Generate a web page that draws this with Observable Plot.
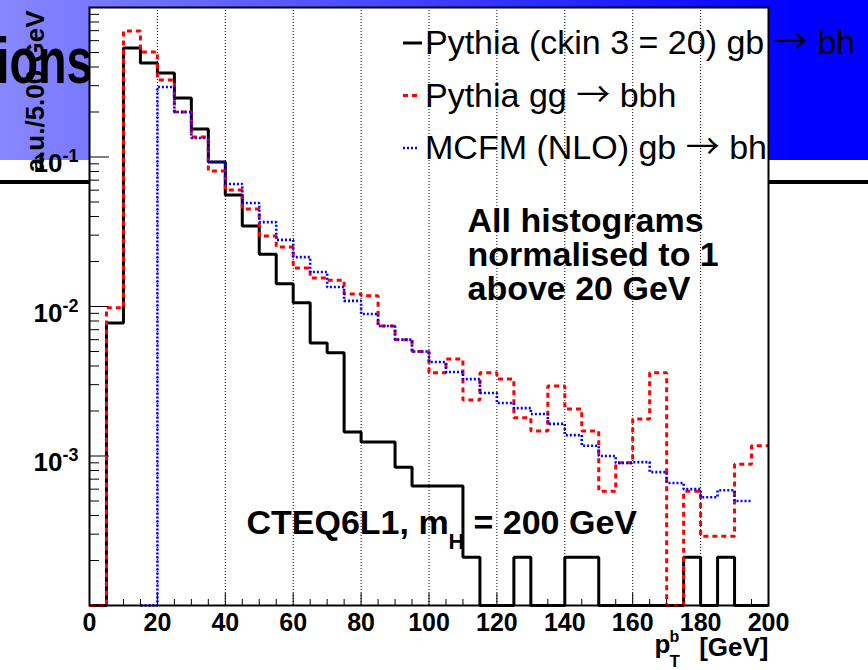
<!DOCTYPE html>
<html>
<head>
<meta charset="utf-8">
<script src="https://cdn.jsdelivr.net/npm/d3@7"></script>
<script src="https://cdn.jsdelivr.net/npm/@observablehq/plot@0.6"></script>
<style>
  html, body { margin: 0; padding: 0; background: #fff; }
  #stage { position: relative; width: 868px; height: 670px; overflow: hidden; background: #fff; }
  #banner { position: absolute; left: 0; top: 0; width: 868px; height: 160px;
            background: linear-gradient(to right, #8888ff 0%, #0000ff 92%); }
  #bar { position: absolute; left: 0; top: 180px; width: 868px; height: 4px; background: #000; }
  #slide-title { position: absolute; right: 775px; top: 29px; font: bold 64px "Liberation Sans", Arial, sans-serif;
                 line-height: 64px; white-space: nowrap; transform: scaleX(0.73); transform-origin: right center; color: #000; }
  #chart { position: absolute; left: 0; top: 0; }
</style>
</head>
<body>
<div id="stage">
  <div id="banner"></div>
  <div id="bar"></div>
  <div id="slide-title">ions</div>
  <div id="chart"></div>
</div>
<script>
// ---------------- data ----------------
// lower edges of the 5 GeV bins in pT^b
const binEdges = [0,5,10,15,20,25,30,35,40,45,50,55,60,65,70,75,80,85,90,95,
                  100,105,110,115,120,125,130,135,140,145,150,155,160,165,170,175,180,185,190,195];
const binWidth = 5;

// Pythia (ckin 3 = 20) gb -> bh  (black, solid)
const pythiaCkin = [0, 0.00776, 0.536, 0.426, 0.365, 0.248, 0.154, 0.0926, 0.0557, 0.0345,
                    0.0224, 0.0142, 0.0106, 0.0057, 0.0049, 0.00145, 0.00124, 0.00124, 0.00084, 0.00063,
                    0.00063, 0.00063, 0.00021, 0, 0, 0.00021, 0, 0, 0.00021, 0.00021,
                    0, 0, 0, 0, 0, 0.00021, 0, 0.00021, 0, 0];

// Pythia gg -> bbh  (red, dashed)
const pythiaGG = [0, 0.0098, 0.697, 0.504, 0.327, 0.200, 0.136, 0.0806, 0.0601, 0.0449,
                  0.0296, 0.0250, 0.0181, 0.0155, 0.0150, 0.0121, 0.0118, 0.0074, 0.0060, 0.0050,
                  0.0036, 0.00445, 0.00237, 0.0036, 0.00327, 0.0018, 0.00147, 0.00294, 0.00206, 0.00147,
                  0.00058, 0.0009, 0.00177, 0.0036, 0, 0.00058, 0.00029, 0.00029, 0.00088, 0.00117];

// MCFM (NLO) gb -> bh  (blue, dotted); null = outside the histogram range
const mcfmNLO = [null, null, null, 0, 0.294, 0.200, 0.134, 0.0926, 0.0660, 0.0492,
                 0.0367, 0.0279, 0.0214, 0.0170, 0.0135, 0.0109, 0.0089, 0.0074, 0.0060, 0.0050,
                 0.00425, 0.00365, 0.00327, 0.00264, 0.00226, 0.00209, 0.00191, 0.00164, 0.00138, 0.00117,
                 0.00100, 0.0009, 0.00091, 0.00078, 0.00066, 0.0006, 0.00053, 0.00059, 0.0005, null];

const xTickLabels = [0, 20, 40, 60, 80, 100, 120, 140, 160, 180, 200];
const xGridLines = [20, 40, 60, 80, 100, 120, 140, 160, 180];
const yTickValues = [0.1, 0.01, 0.001];
const yTickExponents = ["-1", "-2", "-3"];
const yDecades = [0.0001, 0.001, 0.01, 0.1, 1];

const legendLabels = ["Pythia (ckin 3 = 20) gb \u2192 bh", "Pythia gg \u2192 bbh", "MCFM (NLO) gb \u2192 bh"];
const legendColors = ["#000000", "#ff0000", "#0000ff"];
const legendDashes = [null, "5,4", "2,2"];
const legendWidths = [3, 3, 2.6];

const noteLines = ["All histograms", "normalised to 1", "above 20 GeV"];
const yTitle = "a.u./5.00 GeV";

// ---------------- layout ----------------
const W = 868, H = 670;
const mL = 89, mR = 100, mT = 7, mB = 65;
const frameW = W - mL - mR, frameH = H - mT - mB;
const yMin = 1e-4, yMax = 1;
const FONT = "'Liberation Sans', Arial, Helvetica, sans-serif";

// step outline of a histogram; empty bins drop to the bottom of the frame
function steps(vals) {
  const pts = [];
  vals.forEach((v, i) => {
    if (v == null) return;
    const y = v > 0 ? v : yMin;
    pts.push({x: binEdges[i], y}, {x: binEdges[i] + binWidth, y});
  });
  return pts;
}

const xMinorTicks = d3.range(0, 201, 5).filter(d => d % 20 !== 0);
const yMinorTicks = [];
for (const dec of yDecades.slice(0, -1)) for (let k = 2; k <= 9; k++) yMinorTicks.push(dec * k);

const bold = {fontFamily: FONT, fontWeight: "bold", fill: "#000"};

const plot = Plot.plot({
  width: W, height: H,
  marginLeft: mL, marginRight: mR, marginTop: mT, marginBottom: mB,
  style: {background: "transparent", overflow: "visible"},
  x: {domain: [0, 200], axis: null},
  y: {type: "log", domain: [yMin, yMax], axis: null},
  marks: [
    Plot.frame({fill: "white", stroke: null}),
    Plot.ruleX(xGridLines, {x: d => d, stroke: "#000", strokeWidth: 1, strokeDasharray: "1,2"}),
    Plot.tickX(xMinorTicks, {x: d => d, stroke: "#000", strokeWidth: 1, insetTop: frameH - 6}),
    Plot.tickX(xTickLabels, {x: d => d, stroke: "#000", strokeWidth: 1, insetTop: frameH - 12}),
    Plot.tickY(yMinorTicks, {y: d => d, stroke: "#000", strokeWidth: 1, insetRight: frameW - 10}),
    Plot.tickY(yDecades, {y: d => d, stroke: "#000", strokeWidth: 1, insetRight: frameW - 20}),
    Plot.line(steps(pythiaCkin), {x: "x", y: "y", stroke: "#000", strokeWidth: 3, strokeLinejoin: "miter", strokeLinecap: "butt"}),
    Plot.line(steps(pythiaGG), {x: "x", y: "y", stroke: "#ff0000", strokeWidth: 3, strokeDasharray: "5,4", strokeLinejoin: "miter", strokeLinecap: "butt"}),
    Plot.line(steps(mcfmNLO), {x: "x", y: "y", stroke: "#0000ff", strokeWidth: 2.6, strokeDasharray: "2,2", strokeLinejoin: "miter", strokeLinecap: "butt"}),
    Plot.frame({stroke: "#000", strokeWidth: 2}),
    // x tick labels
    Plot.text(xTickLabels, {x: d => d, frameAnchor: "bottom", dy: 25, lineAnchor: "bottom", text: d => String(d), fontSize: 25, ...bold}),
    // y tick labels: 10 with superscript exponent
    Plot.text(yTickValues, {y: d => d, frameAnchor: "left", dx: -27, dy: 15, textAnchor: "end", lineAnchor: "bottom", text: () => "10", fontSize: 26, ...bold}),
    Plot.text(yTickValues, {y: d => d, frameAnchor: "left", dx: -27, dy: 5, textAnchor: "start", lineAnchor: "bottom", text: (d, i) => yTickExponents[i], fontSize: 18, ...bold}),
    // y title
    Plot.text([yTitle], {frameAnchor: "top-left", dx: -46, dy: 3, rotate: -90, textAnchor: "end", lineAnchor: "bottom", fontSize: 26, ...bold}),
    // x title p_T^b [GeV]
    Plot.text(["p"], {frameAnchor: "bottom-right", dx: -114, dy: 47, textAnchor: "start", lineAnchor: "bottom", fontSize: 26, ...bold}),
    Plot.text(["b"], {frameAnchor: "bottom-right", dx: -99, dy: 36, textAnchor: "start", lineAnchor: "bottom", fontSize: 16, ...bold}),
    Plot.text(["T"], {frameAnchor: "bottom-right", dx: -99, dy: 61, textAnchor: "start", lineAnchor: "bottom", fontSize: 17, ...bold}),
    Plot.text(["[GeV]"], {frameAnchor: "bottom-right", dx: 0, dy: 50, textAnchor: "end", lineAnchor: "bottom", fontSize: 26, ...bold}),
    // annotation
    Plot.text([noteLines.join("\n")], {frameAnchor: "top-left", dx: 378, dy: 200, textAnchor: "start", lineAnchor: "top", lineHeight: 1.0, fontSize: 34, ...bold}),
    Plot.text(["CTEQ6L1, m"], {frameAnchor: "top-left", dx: 157, dy: 526, textAnchor: "start", lineAnchor: "bottom", fontSize: 34, ...bold}),
    Plot.text(["H"], {frameAnchor: "top-left", dx: 359, dy: 541, textAnchor: "start", lineAnchor: "bottom", fontSize: 22, ...bold}),
    Plot.text(["= 200 GeV"], {frameAnchor: "top-left", dx: 384, dy: 526, textAnchor: "start", lineAnchor: "bottom", fontSize: 34, ...bold})
  ]
});

document.getElementById("chart").appendChild(plot);

// legend (top right, drawn into the same SVG); the arrow uses a thin full-width glyph
const svg = d3.select(plot);
const leg = svg.append("g").attr("class", "legend").attr("text-anchor", "start");
legendLabels.forEach((lab, i) => {
  const cy = 43 + i * 52.5;
  leg.append("line")
    .attr("x1", 403).attr("x2", i === 0 ? 422 : 418)
    .attr("y1", cy).attr("y2", cy)
    .attr("stroke", legendColors[i]).attr("stroke-width", legendWidths[i])
    .attr("stroke-dasharray", legendDashes[i]);
  const t = leg.append("text")
    .attr("x", 425).attr("y", cy + 11)
    .attr("text-anchor", "start")
    .attr("font-family", FONT).attr("font-size", 34).attr("fill", "#000");
  const parts = lab.split("\u2192");
  t.append("tspan").text(parts[0]);
  t.append("tspan").attr("font-family", "'Noto Sans CJK SC', 'DejaVu Sans', sans-serif").attr("font-size", 34).text("\u2192");
  t.append("tspan").text(parts[1]);
});
</script>
</body>
</html>
